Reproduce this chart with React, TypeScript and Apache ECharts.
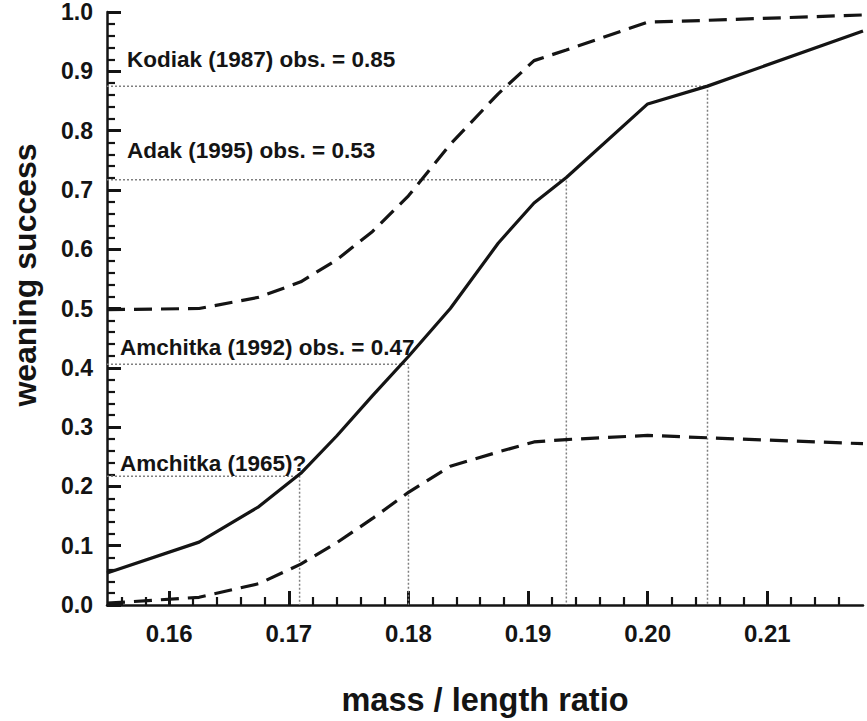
import React, { useEffect, useRef } from "react";
import * as echarts from "echarts";

// mass / length ratio sampling points
const massRatio = [0.1548, 0.1625, 0.1675, 0.171, 0.174, 0.177, 0.18, 0.1835, 0.1875, 0.1905, 0.1932, 0.2, 0.205, 0.218];
// predicted weaning success (solid) and its bounds (dashed)
const meanSuccess = [0.054, 0.106, 0.166, 0.222, 0.285, 0.353, 0.419, 0.5, 0.61, 0.678, 0.721, 0.845, 0.875, 0.968];
const upperSuccess = [0.498, 0.5, 0.519, 0.545, 0.582, 0.63, 0.69, 0.777, 0.862, 0.918, 0.936, 0.983, 0.986, 0.995];
const lowerSuccess = [0.003, 0.013, 0.036, 0.069, 0.105, 0.146, 0.19, 0.234, 0.258, 0.275, 0.279, 0.286, 0.282, 0.272];

// reference populations: label, success level, mass/length ratio
const refLabels = ["Kodiak (1987) obs. = 0.85", "Adak (1995) obs. = 0.53", "Amchitka (1992) obs. = 0.47", "Amchitka (1965)?"];
const refSuccess = [0.875, 0.717, 0.406, 0.217];
const refRatio = [0.205, 0.1932, 0.18, 0.1709];

// axis ticks
const xMin = 0.1548;
const xMax = 0.218;
const xMajorTicks = [0.16, 0.17, 0.18, 0.19, 0.2, 0.21];
const xMinorTicks = [0.156, 0.158, 0.162, 0.164, 0.166, 0.168, 0.172, 0.174, 0.176, 0.178, 0.182, 0.184, 0.186, 0.188, 0.192, 0.194, 0.196, 0.198, 0.202, 0.204, 0.206, 0.208, 0.212, 0.214, 0.216];

const FONT = "'Liberation Sans', Arial, Helvetica, sans-serif";
const INK = "#141414";

export default function App() {
  const ref = useRef<HTMLDivElement>(null);

  useEffect(() => {
    if (!ref.current) return;
    const chart = echarts.init(ref.current, null, { renderer: "svg" });

    const pairs = (ys: number[]) => massRatio.map((x, i) => [x, ys[i]]);

    const refSeries = refSuccess.map((s, i) => ({
      type: "line",
      data: [
        [xMin, s],
        [refRatio[i], s],
        [refRatio[i], 0],
      ],
      symbol: "none",
      silent: true,
      z: 1,
      lineStyle: { color: "#808080", width: 1.5, type: [2, 2] },
    }));

    const annotationY = [59, 150, 347, 463];
    const annotationX = [127, 127, 120, 120];

    chart.setOption({
      animation: false,
      grid: { left: 107, right: 4, top: 12, bottom: 102, containLabel: false },
      xAxis: [
        {
          type: "value",
          min: xMin,
          max: xMax,
          axisLine: { show: true, onZero: false, lineStyle: { color: INK, width: 2.5 } },
          axisTick: { show: true, inside: true, length: 14, customValues: xMajorTicks, lineStyle: { color: INK, width: 3 } },
          axisLabel: {
            customValues: xMajorTicks,
            formatter: (v: number) => v.toFixed(2),
            fontSize: 24,
            fontWeight: "bold",
            fontFamily: FONT,
            color: INK,
            margin: 16,
          },
          splitLine: { show: false },
          name: "mass / length ratio",
          nameLocation: "middle",
          nameGap: 78,
          nameTextStyle: { fontSize: 32.5, fontWeight: "bold", fontFamily: FONT, color: INK },
        },
        {
          type: "value",
          min: xMin,
          max: xMax,
          position: "bottom",
          axisLine: { show: false, onZero: false },
          axisTick: { show: true, inside: true, length: 8, customValues: xMinorTicks, lineStyle: { color: INK, width: 2.2 } },
          axisLabel: { show: false },
          splitLine: { show: false },
        },
      ],
      yAxis: {
        type: "value",
        min: 0,
        max: 1,
        interval: 0.1,
        axisLine: { show: true, onZero: false, lineStyle: { color: INK, width: 2.5 } },
        axisTick: { show: true, inside: true, length: 14, lineStyle: { color: INK, width: 3 } },
        minorTick: { show: true, splitNumber: 5, length: 8, lineStyle: { color: INK, width: 2.2 } },
        axisLabel: {
          formatter: (v: number) => v.toFixed(1),
          fontSize: 23,
          fontWeight: "bold",
          fontFamily: FONT,
          color: INK,
          margin: 14,
        },
        splitLine: { show: false },
      },
      graphic: [
        {
          type: "text",
          x: 25,
          y: 275,
          rotation: Math.PI / 2,
          style: {
            text: "weaning success",
            fontSize: 32,
            fontWeight: "bold",
            fontFamily: FONT,
            fill: INK,
            align: "center",
            verticalAlign: "middle",
          },
        },
        ...refLabels.map((t, i) => ({
          type: "text",
          x: annotationX[i],
          y: annotationY[i],
          z: 10,
          style: {
            text: t,
            fontSize: 22.5,
            fontWeight: "bold",
            fontFamily: FONT,
            fill: INK,
            align: "left",
            verticalAlign: "middle",
          },
        })),
      ],
      series: [
        ...refSeries,
        {
          type: "line",
          data: pairs(meanSuccess),
          symbol: "none",
          z: 3,
          lineStyle: { color: INK, width: 3.2, type: "solid" },
        },
        {
          type: "line",
          data: pairs(upperSuccess),
          symbol: "none",
          z: 3,
          lineStyle: { color: INK, width: 3.2, type: [18, 9] },
        },
        {
          type: "line",
          data: pairs(lowerSuccess),
          symbol: "none",
          z: 3,
          lineStyle: { color: INK, width: 3.2, type: [18, 9] },
        },
      ],
    });

    return () => chart.dispose();
  }, []);

  return (
    <div
      ref={ref}
      style={{ position: "fixed", left: 0, top: 0, width: 867, height: 721, background: "#fff" }}
    />
  );
}
